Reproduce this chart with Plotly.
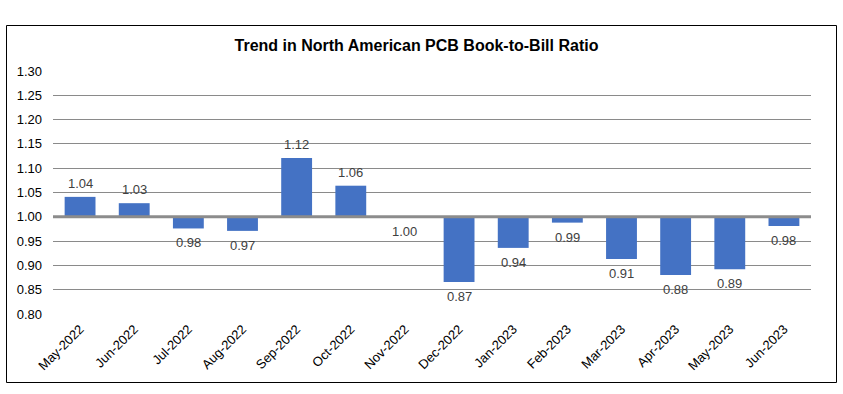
import plotly.graph_objects as go

months = ["May-2022", "Jun-2022", "Jul-2022", "Aug-2022", "Sep-2022", "Oct-2022", "Nov-2022",
          "Dec-2022", "Jan-2023", "Feb-2023", "Mar-2023", "Apr-2023", "May-2023", "Jun-2023"]
ratios = [1.041, 1.028, 0.976, 0.971, 1.121, 1.064, 1.000,
          0.866, 0.936, 0.988, 0.913, 0.880, 0.892, 0.981]
baseline = 1.00
y_ticks = [0.80, 0.85, 0.90, 0.95, 1.00, 1.05, 1.10, 1.15, 1.20, 1.25, 1.30]

font_family = "Liberation Sans, Arial, sans-serif"

fig = go.Figure()
fig.add_trace(go.Bar(
    x=months,
    y=[r - baseline for r in ratios],
    base=baseline,
    marker=dict(color="#4472C4", line=dict(width=0)),
    width=0.57,
    hoverinfo="skip",
))

annotations = []
for m, r in zip(months, ratios):
    above = r > baseline
    annotations.append(dict(
        x=m, y=r, xref="x", yref="y",
        text=f"{r:.2f}", showarrow=False,
        yanchor="bottom" if above else "top",
        yshift=4 if above else -5,
        font=dict(family=font_family, size=13, color="#404040"),
    ))

W, H = 843, 394
# plot area in pixels: x 53..811, y 71..314
ml, mr, mt, mb = 53, 32, 71, 80
pw, ph = W - ml - mr, H - mt - mb

def px_to_paper_x(px):
    return (px - ml) / pw

def px_to_paper_y(py):
    return (H - mb - py) / ph

shapes = [
    dict(type="rect", xref="paper", yref="paper",
         x0=px_to_paper_x(6.5), x1=px_to_paper_x(836.5),
         y0=px_to_paper_y(382.5), y1=px_to_paper_y(25.5),
         line=dict(color="#000000", width=1), fillcolor="rgba(0,0,0,0)", layer="above"),
    dict(type="line", xref="paper", yref="y", x0=0, x1=1, y0=baseline, y1=baseline,
         line=dict(color="#8c8c8c", width=3), layer="above"),
]

fig.update_layout(
    width=W, height=H,
    margin=dict(l=ml, r=mr, t=mt, b=mb),
    paper_bgcolor="white", plot_bgcolor="white",
    showlegend=False,
    title=dict(text="<b>Trend in North American PCB Book-to-Bill Ratio</b>",
               x=416.5 / W, xref="container", xanchor="center", y=1 - 45 / H, yanchor="middle",
               font=dict(family=font_family, size=16, color="#000000")),
    xaxis=dict(tickangle=-45, tickfont=dict(family=font_family, size=13, color="#000000"),
               showgrid=False, showline=False, ticks="", zeroline=False,
               ticklabelstandoff=4),
    yaxis=dict(range=[0.80, 1.30], tickvals=y_ticks, ticktext=[f"{v:.2f}" for v in y_ticks],
               tickfont=dict(family=font_family, size=13, color="#000000"),
               showgrid=True, gridcolor="#8a8a8a", gridwidth=1,
               zeroline=False, showline=False, ticks="", ticklabelstandoff=10),
    annotations=annotations,
    shapes=shapes,
)

fig.write_html("out.html",
               config={"displayModeBar": False},
               post_script="document.body.style.margin='0';document.body.style.padding='0';")
